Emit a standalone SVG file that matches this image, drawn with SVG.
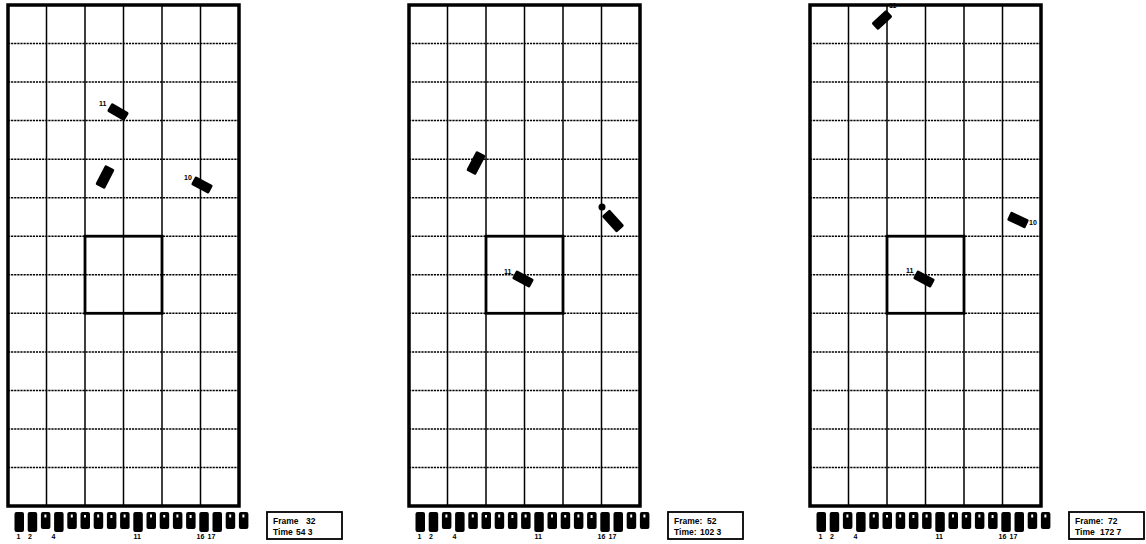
<svg xmlns="http://www.w3.org/2000/svg" xmlns:xlink="http://www.w3.org/1999/xlink" width="1146" height="544" viewBox="0 0 1146 544">
<style>
.v{stroke:#000;stroke-width:1.5;fill:none}
.h{stroke:#000;stroke-width:1.5;stroke-dasharray:2.2 0.9;fill:none}
.border{stroke:#000;stroke-width:3.5;fill:none}
.sq{stroke:#000;stroke-width:2.8;fill:none}
.bar{fill:#000}
.mark{fill:#fff}
.lbl{font-family:"Liberation Sans",Arial,sans-serif;font-weight:bold;font-size:7px;fill:#000}
.box{fill:#fff;stroke:#000;stroke-width:1.8}
.ft{font-family:"Liberation Sans",Arial,sans-serif;font-weight:bold;font-size:8.5px;fill:#000}
.bot{fill:#000}
</style>
<defs>
<g id="grid">
<path class="v" d="M46.5 5V506M85 5V506M123.5 5V506M162 5V506M200.5 5V506"/>
<path class="h" d="M8 43.5H239M8 82.1H239M8 120.6H239M8 159.2H239M8 197.7H239M8 236.2H239M8 274.8H239M8 313.3H239M8 351.9H239M8 390.4H239M8 428.9H239M8 467.5H239"/>
<rect class="border" x="8" y="5" width="231" height="501"/>
<rect class="sq" x="85" y="236.2" width="77" height="77.1"/>
</g>
<g id="bars">
<rect class="bar" x="14.5" y="512" width="9.5" height="20" rx="2"/>
<rect class="bar" x="27.7" y="512" width="9.5" height="20" rx="2"/>
<rect class="bar" x="40.9" y="512" width="9.5" height="17" rx="2"/>
<rect class="bar" x="54.1" y="512" width="9.5" height="20" rx="2"/>
<rect class="bar" x="67.3" y="512" width="9.5" height="17" rx="2"/>
<rect class="bar" x="80.5" y="512" width="9.5" height="17" rx="2"/>
<rect class="bar" x="93.7" y="512" width="9.5" height="17" rx="2"/>
<rect class="bar" x="106.9" y="512" width="9.5" height="17" rx="2"/>
<rect class="bar" x="120.1" y="512" width="9.5" height="17" rx="2"/>
<rect class="bar" x="133.3" y="512" width="9.5" height="20" rx="2"/>
<rect class="bar" x="146.5" y="512" width="9.5" height="17" rx="2"/>
<rect class="bar" x="159.7" y="512" width="9.5" height="17" rx="2"/>
<rect class="bar" x="172.9" y="512" width="9.5" height="17" rx="2"/>
<rect class="bar" x="186.1" y="512" width="9.5" height="17" rx="2"/>
<rect class="bar" x="199.3" y="512" width="9.5" height="20" rx="2"/>
<rect class="bar" x="212.5" y="512" width="9.5" height="20" rx="2"/>
<rect class="bar" x="225.7" y="512" width="9.5" height="17" rx="2"/>
<rect class="bar" x="238.9" y="512" width="9.5" height="17" rx="2"/>
<rect class="mark" x="44.4" y="514.5" width="2" height="3"/>
<rect class="mark" x="70.8" y="514.5" width="2" height="3"/>
<rect class="mark" x="84" y="515" width="2" height="2.5"/>
<rect class="mark" x="97.2" y="514.5" width="2" height="3"/>
<rect class="mark" x="110.4" y="515" width="2" height="3"/>
<rect class="mark" x="123.6" y="514.5" width="2" height="3"/>
<rect class="mark" x="150" y="514.5" width="2" height="3"/>
<rect class="mark" x="163.2" y="515" width="2" height="2.5"/>
<rect class="mark" x="176.4" y="514.5" width="2" height="3"/>
<rect class="mark" x="189.6" y="515" width="2" height="3"/>
<rect class="mark" x="229.2" y="514.5" width="2" height="3"/>
<rect class="mark" x="242.4" y="514.5" width="2" height="3"/>
<text class="lbl" x="16.5" y="539">1</text>
<text class="lbl" x="28" y="539">2</text>
<text class="lbl" x="51.5" y="539">4</text>
<text class="lbl" x="133.5" y="539">11</text>
<text class="lbl" x="196.5" y="539">16</text>
<text class="lbl" x="207.5" y="539">17</text>
</g>
<rect id="bot" class="bot" x="-10" y="-4.8" width="20" height="9.6" rx="1.5"/>
<rect id="botL" class="bot" x="-11" y="-5.3" width="22" height="10.6" rx="1.5"/>
</defs>

<g id="panel1">
<use xlink:href="#grid"/>
<use xlink:href="#bars"/>
<g id="p1-robot11"><use xlink:href="#bot" transform="translate(118 112) rotate(30)"/><text class="lbl" x="99" y="106">11</text></g>
<g id="p1-robotA"><use xlink:href="#botL" transform="translate(105 177) rotate(-63)"/></g>
<g id="p1-robot10"><use xlink:href="#bot" transform="translate(202 185) rotate(28)"/><text class="lbl" x="184" y="180">10</text></g>
<g id="p1-status"><rect class="box" x="267" y="512" width="75" height="27"/><text class="ft" x="273" y="523.5">Frame</text><text class="ft" x="306" y="523.5">32</text><text class="ft" x="273" y="534.5">Time</text><text class="ft" x="296" y="534.5">54 3</text></g>
</g>

<g id="panel2">
<use xlink:href="#grid" x="401"/>
<use xlink:href="#bars" x="401"/>
<g id="p2-robotA"><use xlink:href="#botL" transform="translate(476 163) rotate(-62)"/></g>
<g id="p2-robotB"><circle class="bot" cx="602" cy="207" r="3.5"/><use xlink:href="#botL" transform="translate(613 221) rotate(48)"/></g>
<g id="p2-robot11"><use xlink:href="#bot" transform="translate(523 279) rotate(28)"/><text class="lbl" x="504" y="274">11</text></g>
<g id="p2-status"><rect class="box" x="668" y="512" width="75" height="27"/><text class="ft" x="674" y="523.5">Frame:</text><text class="ft" x="707" y="523.5">52</text><text class="ft" x="674" y="534.5">Time:</text><text class="ft" x="700" y="534.5">102 3</text></g>
</g>

<g id="panel3">
<use xlink:href="#grid" x="802"/>
<use xlink:href="#bars" x="802"/>
<g id="p3-robot11a"><use xlink:href="#bot" transform="translate(882 20) rotate(-43)"/><text class="lbl" x="889" y="8">11</text></g>
<g id="p3-robot10"><use xlink:href="#bot" transform="translate(1018 220) rotate(25)"/><text class="lbl" x="1029" y="225">10</text></g>
<g id="p3-robot11"><use xlink:href="#bot" transform="translate(924 279) rotate(28)"/><text class="lbl" x="906" y="273">11</text></g>
<g id="p3-status"><rect class="box" x="1069" y="512" width="75" height="27"/><text class="ft" x="1075" y="523.5">Frame:</text><text class="ft" x="1108" y="523.5">72</text><text class="ft" x="1075" y="534.5">Time</text><text class="ft" x="1100" y="534.5">172 7</text></g>
</g>
</svg>
